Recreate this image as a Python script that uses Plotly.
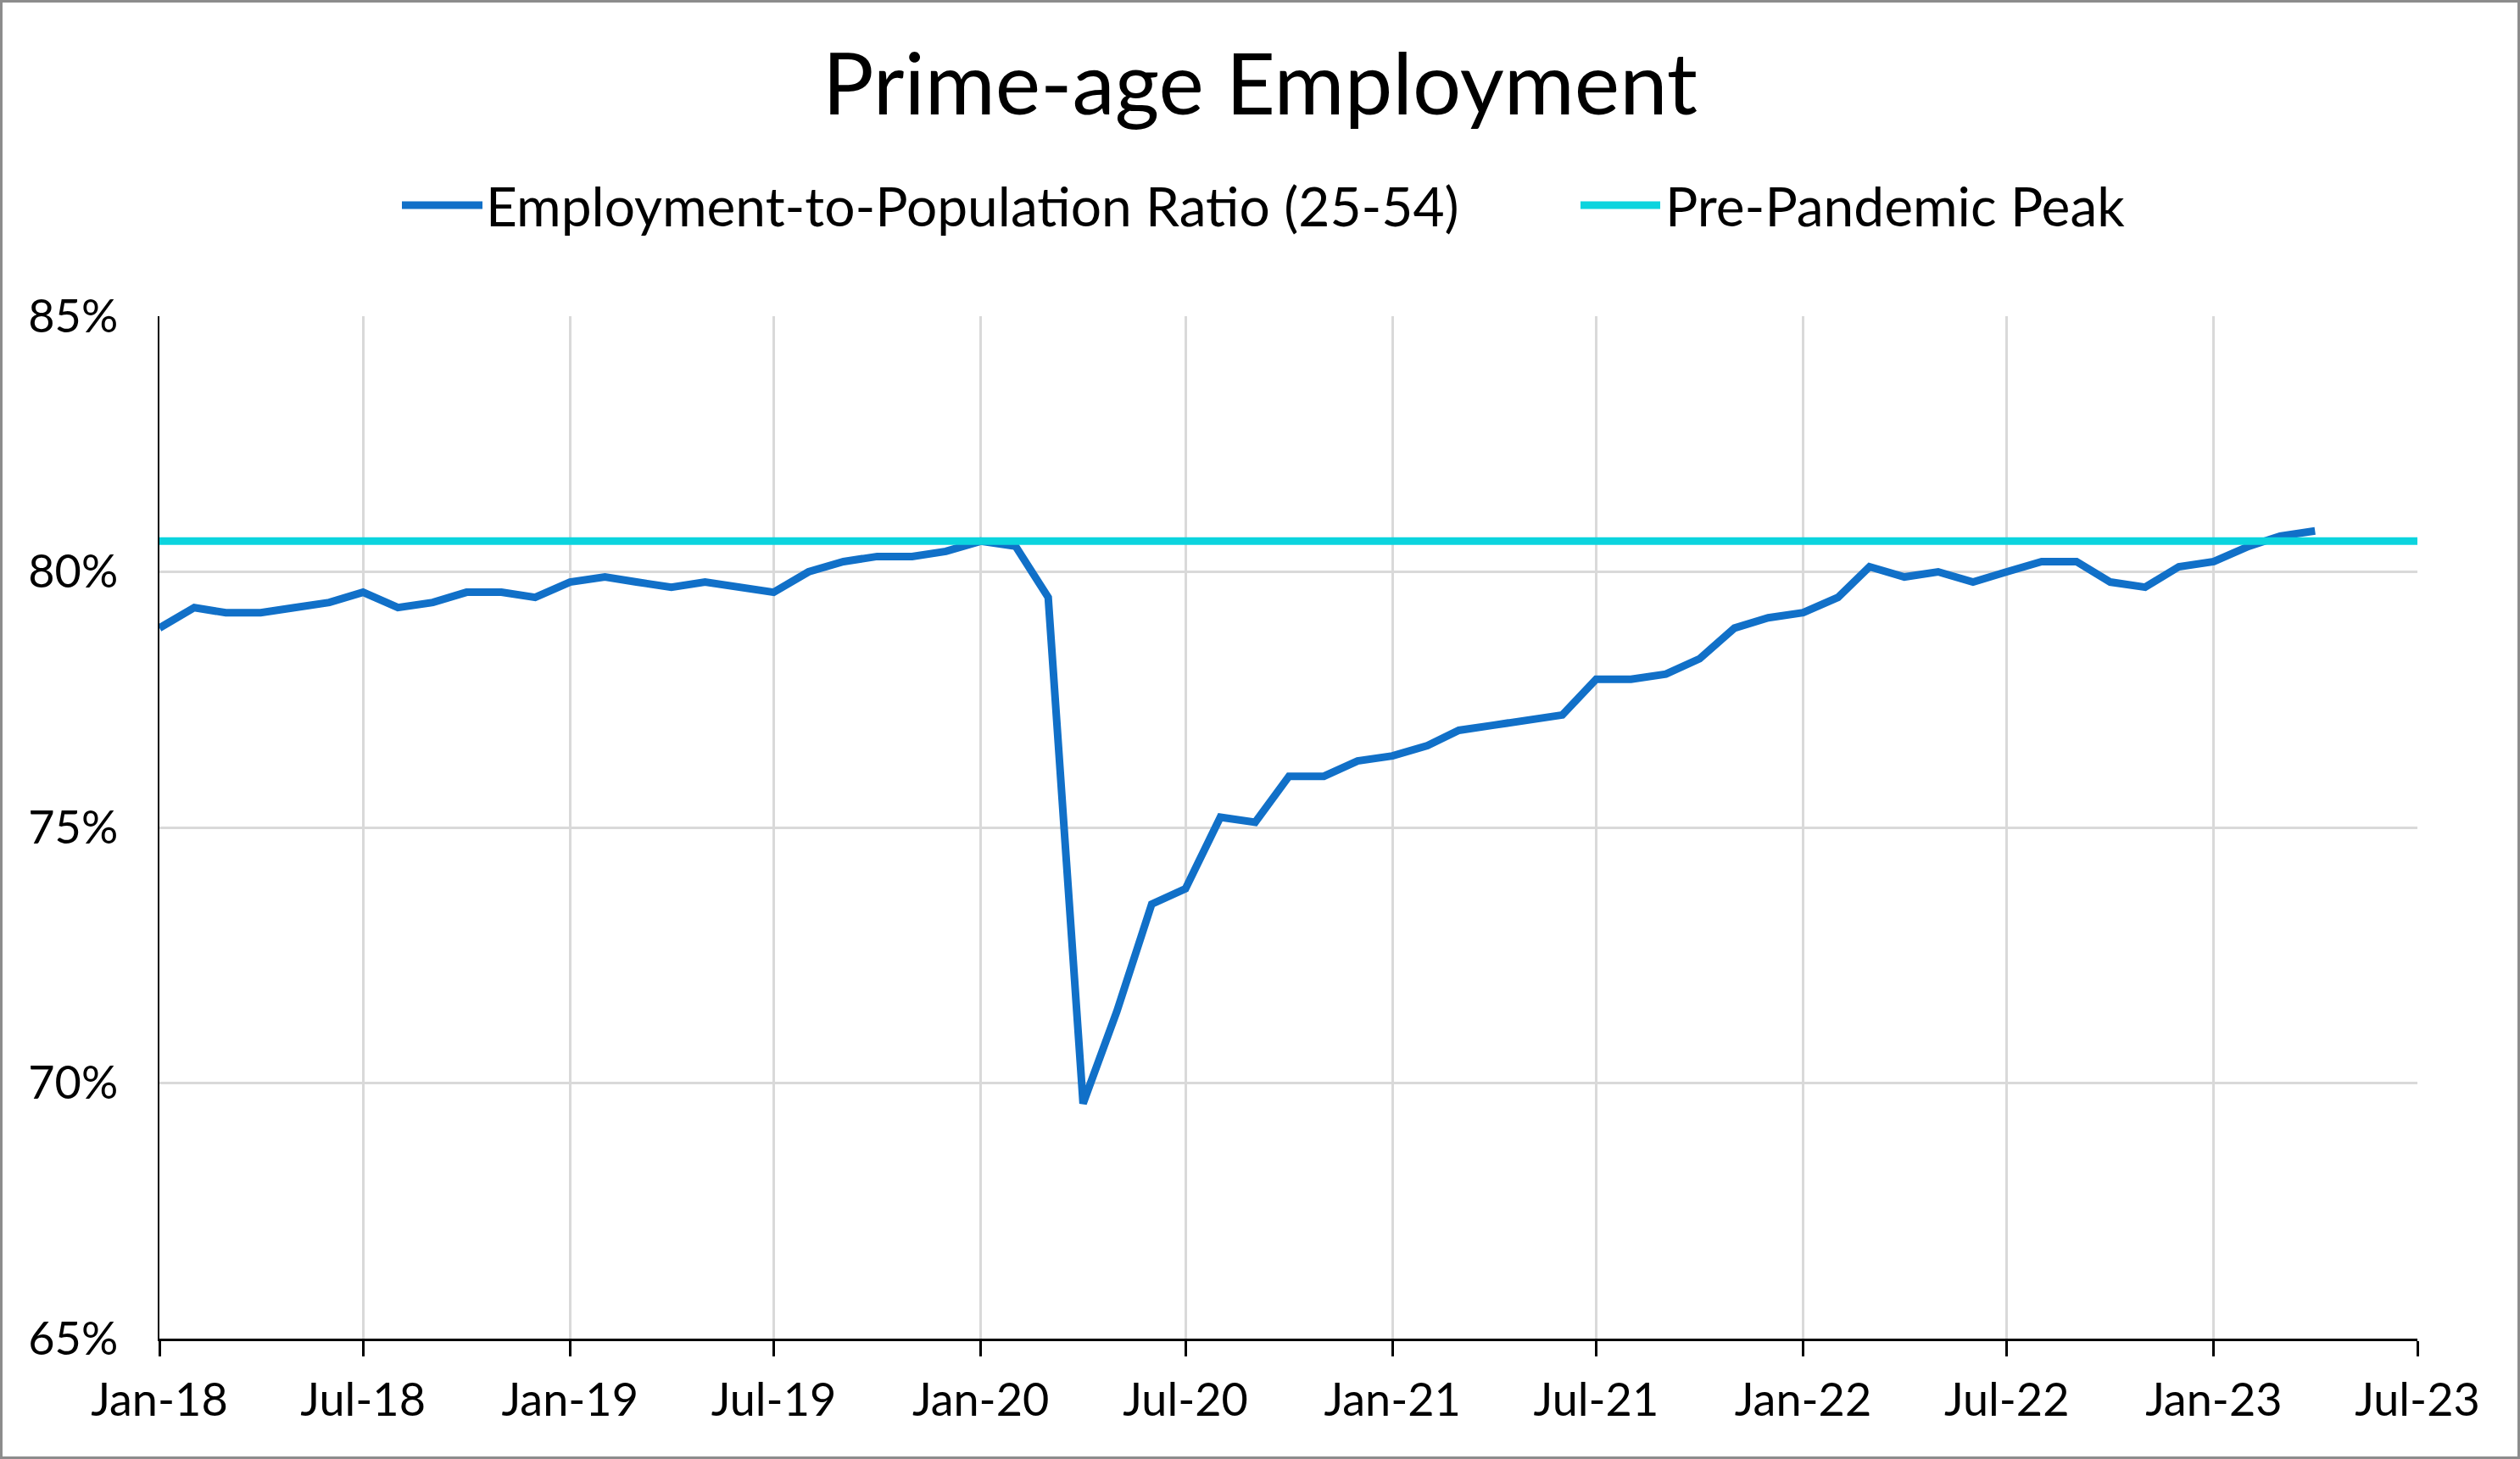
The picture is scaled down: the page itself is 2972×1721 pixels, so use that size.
import plotly.graph_objects as go
import pandas as pd

# ---- Data ----
START_MONTH = "2018-01-01"
epop_values = [
    # 2018
    78.9, 79.3, 79.2, 79.2, 79.3, 79.4, 79.6, 79.3, 79.4, 79.6, 79.6, 79.5,
    # 2019
    79.8, 79.9, 79.8, 79.7, 79.8, 79.7, 79.6, 80.0, 80.2, 80.3, 80.3, 80.4,
    # 2020
    80.6, 80.5, 79.5, 69.6, 71.4, 73.5, 73.8, 75.2, 75.1, 76.0, 76.0, 76.3,
    # 2021
    76.4, 76.6, 76.9, 77.0, 77.1, 77.2, 77.9, 77.9, 78.0, 78.3, 78.9, 79.1,
    # 2022
    79.2, 79.5, 80.1, 79.9, 80.0, 79.8, 80.0, 80.2, 80.2, 79.8, 79.7, 80.1,
    # 2023
    80.2, 80.5, 80.7, 80.8,
]
months = pd.date_range(START_MONTH, periods=len(epop_values), freq="MS")

pre_pandemic_peak = 80.6
peak_x = ["2018-01-01", "2023-07-01"]
peak_y = [pre_pandemic_peak, pre_pandemic_peak]

series_names = ["Employment-to-Population Ratio (25-54)", "Pre-Pandemic Peak"]
series_colors = ["#1170C8", "#0CD4DE"]

y_ticks = [65, 70, 75, 80, 85]
y_tick_labels = ["65%", "70%", "75%", "80%", "85%"]
x_range = ["2018-01-01", "2023-07-01"]

title_text = "Prime-age Employment"

# ---- Layout constants ----
W, H = 2972, 1721
ML, MR, MT, MB = 188, 121, 373, 142
PW, PH = W - ML - MR, H - MT - MB
FONT = "Lato"

fig = go.Figure()
fig.add_trace(go.Scatter(
    x=months, y=epop_values, mode="lines", name=series_names[0],
    line=dict(color=series_colors[0], width=9), showlegend=False,
))
fig.add_trace(go.Scatter(
    x=peak_x, y=peak_y, mode="lines", name=series_names[1],
    line=dict(color=series_colors[1], width=9), showlegend=False,
))

def px_x(px):
    return (px - ML) / PW

def px_y(py):
    return (H - MB - py) / PH

shapes = []
annotations = []
# custom legend (long line samples like the reference)
legend_items = [
    (474, 569, 571),
    (1864, 1958, 1962),
]
legend_y = 242
for (s0, s1, tx), name, col in zip(legend_items, series_names, series_colors):
    shapes.append(dict(type="line", xref="paper", yref="paper",
                       x0=px_x(s0), x1=px_x(s1), y0=px_y(legend_y), y1=px_y(legend_y),
                       line=dict(color=col, width=9)))
    annotations.append(dict(text=name, xref="paper", yref="paper",
                            x=px_x(tx), y=px_y(legend_y), xanchor="left", yanchor="middle",
                            showarrow=False, font=dict(family=FONT, size=64, color="#000000")))

# outer border
shapes.append(dict(type="rect", xref="paper", yref="paper",
                   x0=px_x(1.5), x1=px_x(W - 1.5), y0=px_y(H - 1.5), y1=px_y(1.5),
                   line=dict(color="#8C8C8C", width=3), fillcolor="rgba(0,0,0,0)", layer="above"))

fig.update_layout(
    width=W, height=H,
    margin=dict(l=ML, r=MR, t=MT, b=MB, autoexpand=False),
    paper_bgcolor="white", plot_bgcolor="white",
    font=dict(family=FONT, color="#000000"),
    title=dict(text=title_text, x=0.5, xanchor="center", y=1 - 100 / H, yanchor="middle",
               yref="container", font=dict(family=FONT, size=101, color="#000000")),
    shapes=shapes, annotations=annotations,
    xaxis=dict(
        type="date", range=x_range, dtick="M6", tick0="2018-01-01", tickformat="%b-%y",
        showgrid=True, gridcolor="#D9D9D9", gridwidth=2.5,
        showline=True, linecolor="#000000", linewidth=3,
        ticks="outside", ticklen=18, tickwidth=3, tickcolor="#000000",
        tickfont=dict(family=FONT, size=54, color="#000000"),
        ticklabelstandoff=5, zeroline=False,
    ),
    yaxis=dict(
        range=[65, 85], tickmode="array", tickvals=y_ticks, ticktext=y_tick_labels,
        showgrid=True, gridcolor="#D9D9D9", gridwidth=2.5,
        showline=True, linecolor="#000000", linewidth=2,
        ticks="", tickfont=dict(family=FONT, size=54, color="#000000"),
        ticklabelstandoff=36, zeroline=False,
    ),
    showlegend=False,
)

fig.write_html("out.html", config={"displayModeBar": False},
               post_script="document.body.style.margin='0';document.body.style.padding='0';")
